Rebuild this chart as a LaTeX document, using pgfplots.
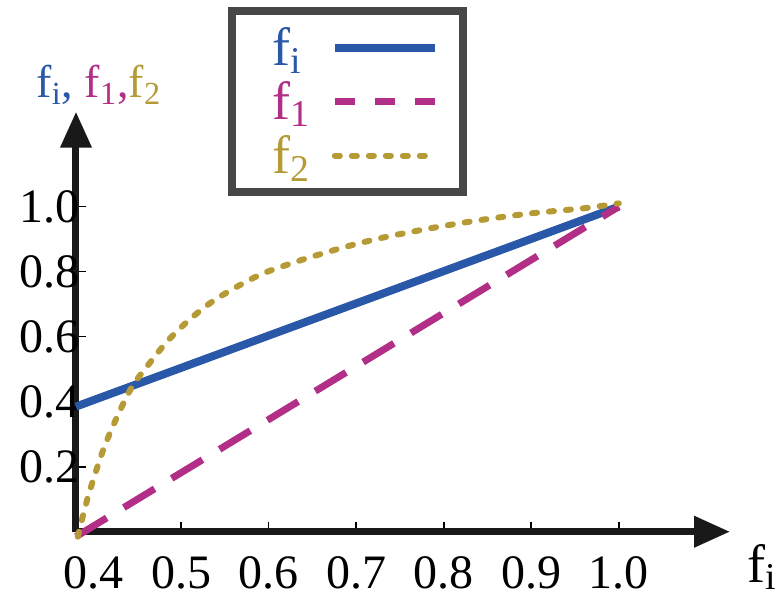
\documentclass[border=0pt]{standalone}
\usepackage{pgfplots}
\pgfplotsset{compat=1.18}
\usepackage{fontspec}
\setmainfont{Liberation Serif}
\usetikzlibrary{arrows.meta}
\definecolor{cblue}{HTML}{2A58A8}
\definecolor{cmag}{HTML}{B22E87}
\definecolor{cgold}{HTML}{B59A35}
\definecolor{cbox}{HTML}{474747}
\newcommand\bigf{\fontsize{24}{28.8}\selectfont}
\newcommand\hugef{\fontsize{27}{32}\selectfont}
\newcommand\ylf{\fontsize{23}{27.6}\selectfont}
\begin{document}
\begin{tikzpicture}
\begin{axis}[
  scale only axis, width=327pt, height=210pt,
  xmin=0.38, xmax=1.127, ymin=0, ymax=1.292,
  axis lines=left,
  axis line style={line width=3.5pt, black!90, -{Triangle[length=18pt,width=15pt]}},
  xtick={0.4,0.5,0.6,0.7,0.8,0.9,1.0},
  ytick={0.2,0.4,0.6,0.8,1.0},
  tick align=inside, major tick length=5pt,
  tick style={line width=0.8pt, black},
  ticklabel style={font=\bigf},
  xticklabel style={yshift=-9pt},
  yticklabel style={xshift=5.5pt},
  xticklabel={\pgfmathprintnumber[fixed,fixed zerofill,precision=1,assume math mode=true]{\tick}},
  yticklabel={\pgfmathprintnumber[fixed,fixed zerofill,precision=1,assume math mode=true]{\tick}},
  clip=false,
  xlabel={f\textsubscript{i}},
  xlabel style={font=\hugef, at={(axis description cs:1.05,-0.084)}, anchor=center},
  ylabel={\textcolor{cblue}{f\textsubscript{i},} \textcolor{cmag}{f\textsubscript{1},}\textcolor{cgold}{f\textsubscript{2}}},
  ylabel style={font=\ylf, rotate=-90, at={(axis description cs:0.035,1.0636)}, anchor=center},
  legend style={at={(0.415,1.024)}, anchor=center, draw=cbox, line width=4pt,
    inner xsep=12pt, inner ysep=6pt, row sep=2.5pt, column sep=8pt,
    nodes={inner sep=2pt}, font=\hugef},
  legend plot pos=right,
  legend cell align=left,
  legend image code/.code={\draw[#1] (0pt,0pt) -- (50pt,0pt);},
]
\addplot[cblue, line width=4pt] coordinates {(0.38,0.385) (1.0,1.0)};
\addlegendentry{\hspace*{6.5pt}\textcolor{cblue}{f\textsubscript{i}}}
\addplot[cmag, line width=3.5pt, dash pattern=on 18pt off 10pt,
  legend image post style={dash pattern=on 10pt off 10pt}] coordinates {(0.38,-0.015) (1.0,1.0)};
\addlegendentry{\hspace*{6.5pt}\textcolor{cmag}{f\textsubscript{1}}}
\addplot[cgold, line width=3pt, line cap=round, dash pattern=on 2.5pt off 6pt, smooth, tension=0.5] coordinates {
(0.382,-0.015) (0.389,0.060) (0.396,0.128) (0.411,0.251) (0.427,0.354) (0.444,0.446)
(0.461,0.508) (0.484,0.585) (0.507,0.646) (0.533,0.703) (0.564,0.754) (0.594,0.795)
(0.632,0.831) (0.663,0.857) (0.693,0.880) (0.731,0.905) (0.788,0.935) (0.845,0.960)
(0.902,0.980) (0.960,0.995) (1.0,1.01)};
\addlegendentry{\hspace*{6.5pt}\textcolor{cgold}{f\textsubscript{2}}}
\coordinate (bbsw) at (rel axis cs:-0.1162,-0.165);
\coordinate (bbne) at (rel axis cs:1.0749,1.266);
\end{axis}
\pgfresetboundingbox
\path[use as bounding box] (bbsw) rectangle (bbne);
\end{tikzpicture}
\end{document}
